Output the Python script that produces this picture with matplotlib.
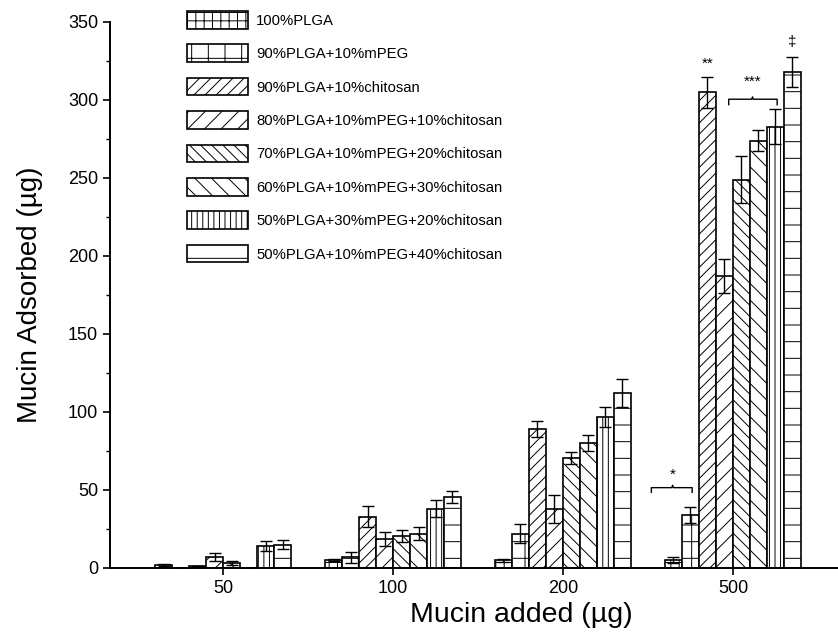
import numpy as np
import matplotlib.pyplot as plt
from matplotlib.ticker import MultipleLocator

plt.rcParams['font.family'] = ['Liberation Sans', 'DejaVu Sans']
plt.rcParams['hatch.linewidth'] = 0.7

# data
groups = ['50', '100', '200', '500']
labels = ['100%PLGA', '90%PLGA+10%mPEG', '90%PLGA+10%chitosan',
          '80%PLGA+10%mPEG+10%chitosan', '70%PLGA+10%mPEG+20%chitosan',
          '60%PLGA+10%mPEG+30%chitosan', '50%PLGA+30%mPEG+20%chitosan',
          '50%PLGA+10%mPEG+40%chitosan']

plga100 = [2, 5, 5, 5]
plga100_err = [0.5, 0.5, 1, 2]
mpeg10 = [0.3, 7, 22, 34]
mpeg10_err = [0, 3.5, 6, 5]
chit10 = [1, 33, 89, 305]
chit10_err = [0.3, 6.5, 5, 10]
mpeg10_chit10 = [7, 18.5, 38, 187]
mpeg10_chit10_err = [2.6, 4.5, 9, 11]
mpeg10_chit20 = [3.2, 20.5, 70.5, 249]
mpeg10_chit20_err = [1, 4, 4, 15]
mpeg10_chit30 = [0, 22, 80, 274]
mpeg10_chit30_err = [0, 4, 5, 7]
mpeg30_chit20 = [14, 38, 97, 283]
mpeg30_chit20_err = [3, 5.5, 6.5, 11]
mpeg10_chit40 = [15, 45.5, 112, 318]
mpeg10_chit40_err = [3, 4, 9, 9.5]

series = [plga100, mpeg10, chit10, mpeg10_chit10, mpeg10_chit20,
          mpeg10_chit30, mpeg30_chit20, mpeg10_chit40]
errors = [plga100_err, mpeg10_err, chit10_err, mpeg10_chit10_err,
          mpeg10_chit20_err, mpeg10_chit30_err, mpeg30_chit20_err,
          mpeg10_chit40_err]
hatches = ['++', '+', '///', '//', '\\\\\\', '\\\\', '|||', '-']

fig = plt.figure(figsize=(8.38, 6.4), dpi=100)
ax = fig.add_axes([110 / 838, 72 / 640, 1 - 110 / 838, 546 / 640])

x = np.arange(len(groups))
w = 0.1
for i in range(len(series)):
    pos = x + (i - 3.5) * w
    ax.bar(pos, series[i], w, color='white', edgecolor='black',
           linewidth=1.2, hatch=hatches[i], label=labels[i])
    ax.errorbar(pos, series[i], yerr=errors[i], fmt='none', ecolor='black',
                elinewidth=1, capsize=4, capthick=1)

# significance marks
ax.plot([2.52, 2.52, 2.64, 2.645, 2.65, 2.76, 2.76],
        [48.5, 51.5, 51.5, 53, 51.5, 51.5, 48.5], color='black', lw=1)
ax.text(2.645, 55, '*', ha='center', va='bottom', fontsize=11)
ax.plot([2.975, 2.975, 3.11, 3.115, 3.12, 3.26, 3.26],
        [297, 300.5, 300.5, 302, 300.5, 300.5, 297], color='black', lw=1)
ax.text(3.115, 307, '***', ha='center', va='bottom', fontsize=11)
ax.text(2.85, 319, '**', ha='center', va='bottom', fontsize=11)
ax.text(3.35, 333, '\u2021', ha='center', va='bottom', fontsize=11)

ax.set_xlim(-0.665, 3.618)
ax.set_ylim(0, 350)
ax.set_xticks(x)
ax.set_xticklabels(groups)
ax.yaxis.set_major_locator(MultipleLocator(50))
ax.yaxis.set_minor_locator(MultipleLocator(25))
ax.tick_params(axis='both', which='major', direction='out', length=5,
               width=1.2, labelsize=13)
ax.tick_params(axis='y', which='minor', direction='out', length=3, width=1)
ax.spines['top'].set_visible(False)
ax.spines['right'].set_visible(False)
ax.spines['left'].set_linewidth(1.4)
ax.spines['bottom'].set_linewidth(1.4)

ax.set_xlabel('Mucin added (\u00b5g)', fontsize=20.5)
ax.set_ylabel('Mucin Adsorbed (\u00b5g)', fontsize=20)
ax.xaxis.set_label_coords((521 - 110) / 728, -0.062)
ax.yaxis.set_label_coords(-0.092, 0.5)

ax.legend(loc='upper left', bbox_to_anchor=(187 / 838, 1 - 11 / 640),
          bbox_transform=fig.transFigure, frameon=False, fontsize=10.7,
          handlelength=4.1, handleheight=1.45, labelspacing=1.06,
          handletextpad=0.55, borderpad=0, borderaxespad=0)

plt.savefig('out.png', dpi=100)
